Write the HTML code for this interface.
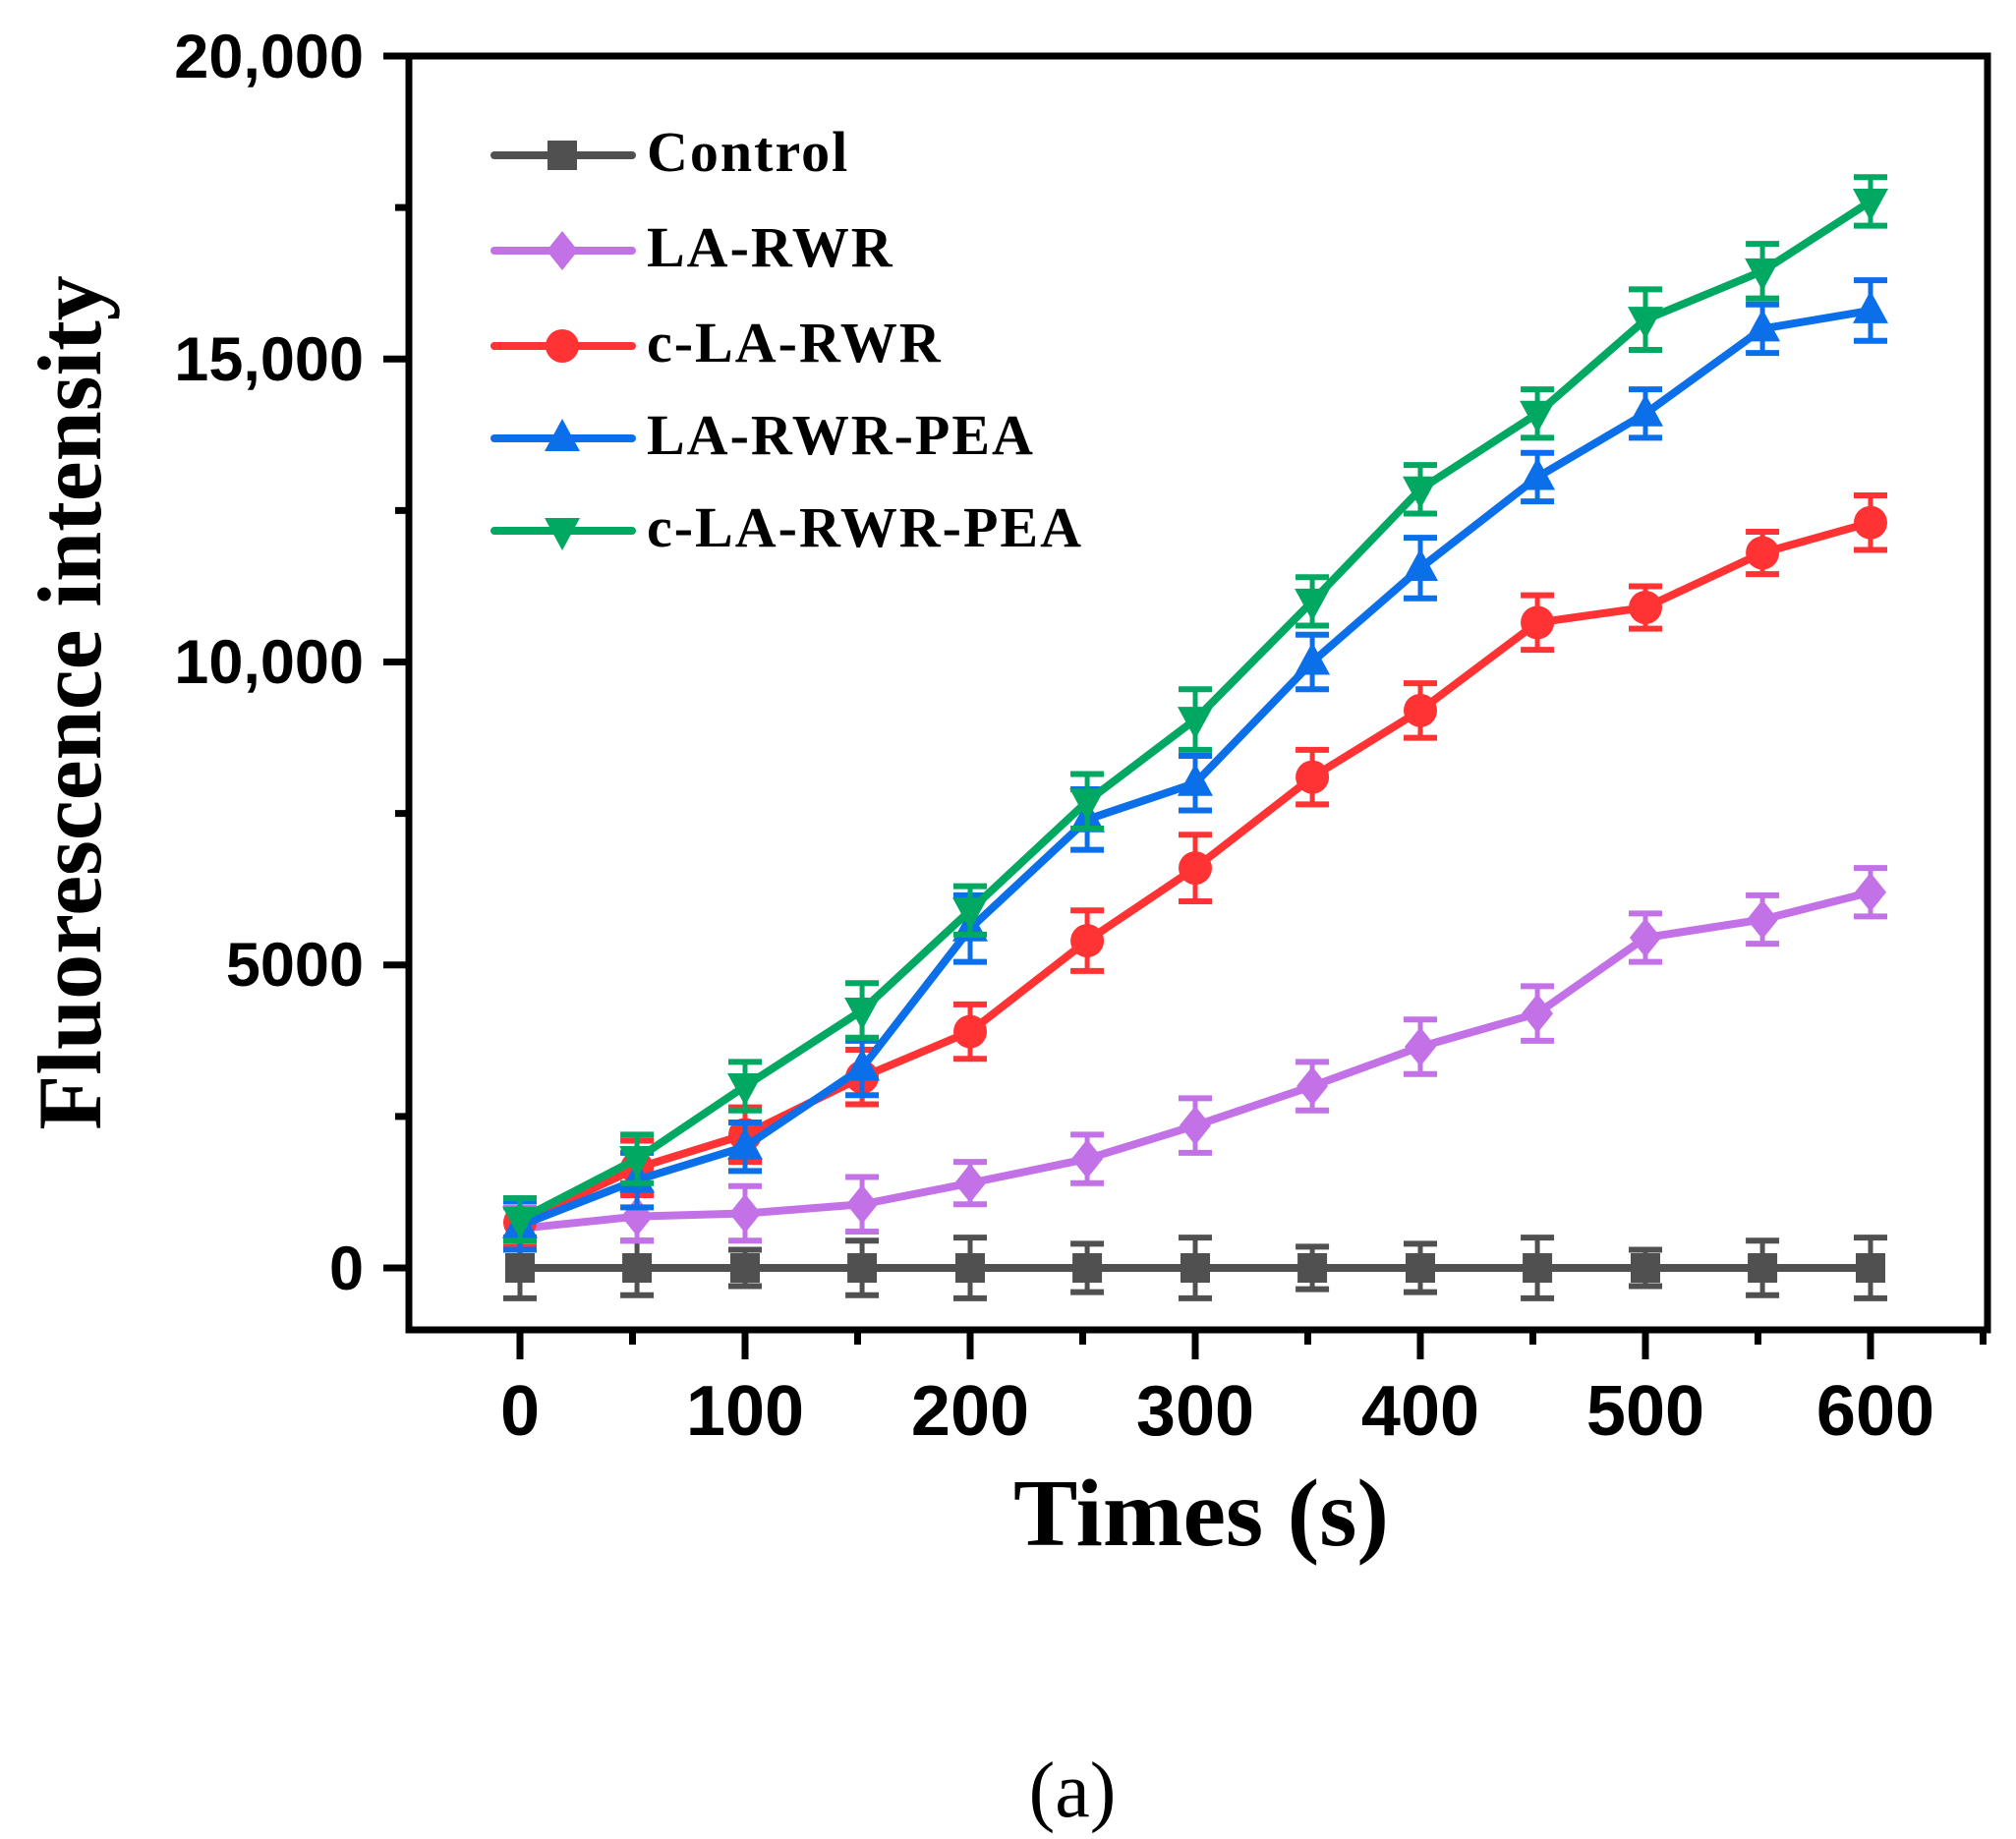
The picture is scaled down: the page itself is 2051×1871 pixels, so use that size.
<!DOCTYPE html>
<html><head><meta charset="utf-8"><style>
html,body{margin:0;padding:0;background:#fff;}
svg{display:block;}
</style></head><body>
<svg id="s" width="2051" height="1871" viewBox="0 0 2051 1871" xmlns="http://www.w3.org/2000/svg">
<rect width="2051" height="1871" fill="#fff"/>
<g id="data"></g>
<rect x="416" y="57" width="1606" height="1296" fill="none" stroke="#000" stroke-width="7"/>
<g id="axes" stroke="#000" stroke-width="7"></g>
<g font-family="'Liberation Sans',Arial,sans-serif" font-weight="bold" fill="#000">
<g font-size="63" text-anchor="end">
<text x="370" y="1312">0</text>
<text x="370" y="1003">5000</text>
<text x="370" y="695">10,000</text>
<text x="370" y="387">15,000</text>
<text x="370" y="79">20,000</text>
</g>
<g font-size="72" text-anchor="middle">
<text x="529" y="1460">0</text>
<text x="758" y="1460">100</text>
<text x="987" y="1460">200</text>
<text x="1216" y="1460">300</text>
<text x="1445" y="1460">400</text>
<text x="1674" y="1460">500</text>
<text x="1908" y="1460">600</text>
</g>
</g>
<g font-family="'Liberation Serif','Times New Roman',serif" font-weight="bold" fill="#000">
<text x="1222" y="1572" font-size="98" text-anchor="middle">Times (s)</text>
<text transform="translate(102,715) rotate(-90)" font-size="92" text-anchor="middle">Fluorescence intensity</text>
<g font-size="58" letter-spacing="2">
<text x="658" y="174">Control</text>
<text x="658" y="271">LA-RWR</text>
<text x="658" y="368">c-LA-RWR</text>
<text x="658" y="462">LA-RWR-PEA</text>
<text x="658" y="556">c-LA-RWR-PEA</text>
</g>
</g>
<text x="1091" y="1848" font-family="'Liberation Serif','Times New Roman',serif" font-size="80" text-anchor="middle">(a)</text>
<g id="legend"></g>
</svg>
<script>
var NS="http://www.w3.org/2000/svg";
function el(p,t,a){var e=document.createElementNS(NS,t);for(var k in a)e.setAttribute(k,a[k]);p.appendChild(e);return e;}
var X=function(t){return 529+2.29*t;}, Y=function(v){return 1290-0.06165*v;};
var ax=document.getElementById('axes');
for(var t=0;t<=650;t+=50){var x=X(t);if(x>2018)break;el(ax,'line',{x1:x,y1:1353,x2:x,y2:(t%100==0?1383:1368)});}
for(var v=0;v<=20000;v+=2500){var y=Y(v);el(ax,'line',{x1:416,y1:y,x2:(v%5000==0?390:402),y2:y});}
var xs=[0,52,100,152,200,252,300,352,400,452,500,552,600];
var S=[
{c:'#505050',m:'sq',d:[0,0,0,0,0,0,0,0,0,0,0,0,0],e:[500,450,300,450,500,400,500,350,400,500,300,450,500]},
{c:'#c272e6',m:'di',d:[650,850,900,1050,1400,1800,2350,3000,3650,4200,5450,5750,6200],e:[350,400,450,450,350,400,450,400,450,450,400,400,400]},
{c:'#ff3333',m:'ci',d:[750,1650,2200,3150,3900,5400,6600,8100,9200,10650,10900,11800,12300],e:[400,450,450,450,450,500,550,450,450,450,350,350,450]},
{c:'#0a6fe8',m:'tu',d:[700,1450,2000,3300,5600,7400,8000,10000,11550,13050,14100,15500,15800],e:[400,450,400,450,550,500,450,450,500,400,400,400,500]},
{c:'#00a862',m:'td',d:[800,1800,3000,4250,5900,7700,9050,11000,12850,14100,15650,16450,17600],e:[350,400,400,450,400,450,500,400,400,400,500,450,400]}
];
function marker(g,m,x,y,c){
 if(m=='sq')el(g,'rect',{x:x-15,y:y-15,width:30,height:30,fill:c});
 else if(m=='di')el(g,'polygon',{points:(x)+','+(y-20)+' '+(x+16)+','+y+' '+x+','+(y+20)+' '+(x-16)+','+y,fill:c});
 else if(m=='ci')el(g,'circle',{cx:x,cy:y,r:17,fill:c});
 else if(m=='tu')el(g,'polygon',{points:x+','+(y-20)+' '+(x+18)+','+(y+13)+' '+(x-18)+','+(y+13),fill:c});
 else el(g,'polygon',{points:x+','+(y+20)+' '+(x+18)+','+(y-13)+' '+(x-18)+','+(y-13),fill:c});
}
var dg=document.getElementById('data');
S.forEach(function(s){
 var g=el(dg,'g',{});
 s.d.forEach(function(v,i){var x=X(xs[i]),y1=Y(v+s.e[i]),y2=Y(v-s.e[i]);
  el(g,'line',{x1:x,y1:y1,x2:x,y2:y2,stroke:s.c,'stroke-width':5});
  el(g,'line',{x1:x-17,y1:y1,x2:x+17,y2:y1,stroke:s.c,'stroke-width':6});
  el(g,'line',{x1:x-17,y1:y2,x2:x+17,y2:y2,stroke:s.c,'stroke-width':6});});
 el(g,'polyline',{points:s.d.map(function(v,i){return X(xs[i])+','+Y(v);}).join(' '),fill:'none',stroke:s.c,'stroke-width':8,'stroke-linejoin':'round'});
 s.d.forEach(function(v,i){marker(g,s.m,X(xs[i]),Y(v),s.c);});
});
var lg=document.getElementById('legend');var ly=[158,255,352,446,540];
S.forEach(function(s,i){el(lg,'line',{x1:503,y1:ly[i],x2:643,y2:ly[i],stroke:s.c,'stroke-width':8,'stroke-linecap':'round'});marker(lg,s.m,572,ly[i],s.c);});
</script>
</body></html>
